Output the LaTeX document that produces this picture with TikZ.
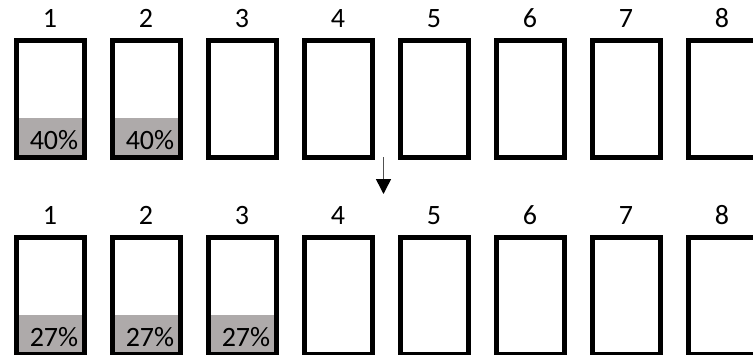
\documentclass[tikz,border=0pt]{standalone}
\usepackage{fontspec}
\setmainfont{Carlito}
\usetikzlibrary{arrows.meta}
\definecolor{fillgray}{RGB}{174,170,170}
\definecolor{arrowgray}{RGB}{80,80,80}
\tikzset{
  cell/.style={draw=black, line width=5pt, rectangle, inner sep=0pt,
    minimum width=68pt, minimum height=117pt},
  filled/.style={path picture={\fill[fillgray] (path picture bounding box.south west) rectangle ([yshift=40pt]path picture bounding box.south east);}},
  numlabel/.style={anchor=base, inner sep=0pt, font=\fontsize{28}{32}\selectfont},
  pct/.style={anchor=base, inner sep=0pt, font=\fontsize{28}{32}\selectfont},
}
\begin{document}
\begin{tikzpicture}[x=1pt, y=-1pt]
\useasboundingbox (0,0) rectangle (753,354);
% top row
\foreach \i in {1,...,8} {
  \pgfmathsetmacro{\cx}{50+96*(\i-1)}
  \ifnum\i<3
    \node[cell, filled] (t\i) at (\cx, 99) {};
  \else
    \node[cell] (t\i) at (\cx, 99) {};
  \fi
  \node[numlabel] (tl\i) at ([yshift=10.5pt]t\i.north) {\i};
}
\node[pct] (tp1) at ([xshift=4pt, yshift=10.5pt]t1.south) {40\%};
\node[pct] (tp2) at ([xshift=4pt, yshift=10.5pt]t2.south) {40\%};
% bottom row
\foreach \i in {1,...,8} {
  \pgfmathsetmacro{\cx}{50+96*(\i-1)}
  \ifnum\i<4
    \node[cell, filled] (b\i) at (\cx, 296) {};
  \else
    \node[cell] (b\i) at (\cx, 296) {};
  \fi
  \node[numlabel] (bl\i) at ([yshift=10.5pt]b\i.north) {\i};
}
\node[pct] (bp1) at ([xshift=4pt, yshift=10.5pt]b1.south) {27\%};
\node[pct] (bp2) at ([xshift=4pt, yshift=10.5pt]b2.south) {27\%};
\node[pct] (bp3) at ([xshift=4pt, yshift=10.5pt]b3.south) {27\%};
% arrow
\coordinate (a1) at (383.5,157);
\coordinate (a2) at (383.5,194);
\draw[arrowgray, line width=1.5pt, -{Triangle[width=15pt, length=15pt, color=black]}] (a1) -- (a2);
\end{tikzpicture}
\end{document}
